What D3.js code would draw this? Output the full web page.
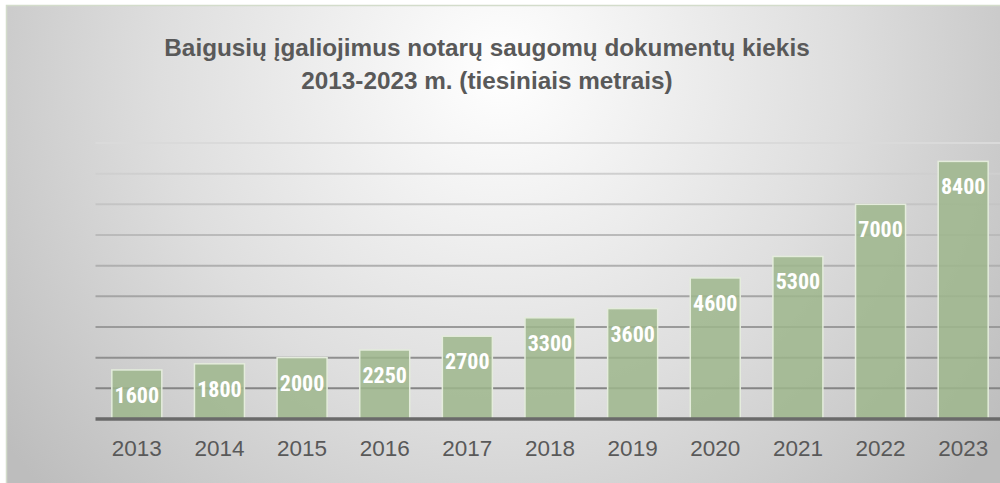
<!DOCTYPE html>
<html>
<head>
<meta charset="utf-8">
<script src="https://cdn.jsdelivr.net/npm/d3@7"></script>
<style>
html,body{margin:0;padding:0;background:#fff;}
svg{display:block;}
</style>
</head>
<body>
<svg id="chart" width="1000" height="483"></svg>
<script>
const titleLines = ["Baigusių įgaliojimus notarų saugomų dokumentų kiekis", "2013-2023 m. (tiesiniais metrais)"];
const years = ["2013","2014","2015","2016","2017","2018","2019","2020","2021","2022","2023"];
const values = [1600,1800,2000,2250,2700,3300,3600,4600,5300,7000,8400];
const gridTicks = [1000,2000,3000,4000,5000,6000,7000,8000,9000];

const W = 1000, H = 483;
const svg = d3.select("#chart");
const defs = svg.append("defs");

const bg = defs.append("radialGradient").attr("id","bg")
  .attr("gradientUnits","userSpaceOnUse")
  .attr("cx",500).attr("cy",70).attr("r",620).attr("fx",500).attr("fy",70);
bg.append("stop").attr("offset","0").attr("stop-color","#ffffff");
bg.append("stop").attr("offset","0.55").attr("stop-color","#dedede");
bg.append("stop").attr("offset","1").attr("stop-color","#bdbdbd");

const margin = {left:95.5, right:-4.5, top:143, bottom:64};
const x = d3.scaleBand().domain(years).range([margin.left, W - margin.right]).paddingInner(0.395).paddingOuter(0.1975);
const y = d3.scaleLinear().domain([0,9000]).range([H - margin.bottom, margin.top]);

const gg = defs.append("linearGradient").attr("id","grid")
  .attr("gradientUnits","userSpaceOnUse").attr("x1",0).attr("y1",y(9000)).attr("x2",0).attr("y2",y(0));
gg.append("stop").attr("offset","0").attr("stop-color","#dadada");
gg.append("stop").attr("offset","1").attr("stop-color","#7a7a7a");

// background + frame
svg.append("rect").attr("x",0).attr("y",0).attr("width",W).attr("height",H).attr("fill","#ffffff");
svg.append("rect").attr("x",6.5).attr("y",5.5).attr("width",W+10).attr("height",H+10)
  .attr("fill","url(#bg)").attr("stroke","#d3dccb").attr("stroke-width",1.5);

// gridlines
svg.append("g").selectAll("line").data(gridTicks).join("line")
  .attr("x1",margin.left).attr("x2",W)
  .attr("y1",d=>y(d)).attr("y2",d=>y(d))
  .attr("stroke","url(#grid)").attr("stroke-width",2);

// bars
svg.append("g").selectAll("rect").data(values).join("rect")
  .attr("x",(d,i)=>x(years[i]))
  .attr("y",d=>y(d))
  .attr("width",x.bandwidth())
  .attr("height",d=>y(0)-y(d))
  .attr("fill","#9db68c").attr("fill-opacity",0.85)
  .attr("stroke","#e4ecdc").attr("stroke-width",1.5);

// baseline axis
const xAxis = d3.axisBottom(x).tickSize(0).tickPadding(14);
const ax = svg.append("g").attr("transform",`translate(0,${y(0)})`).call(xAxis);
ax.select(".domain").attr("stroke","#6a6a6a").attr("stroke-width",3.5).attr("d",`M${margin.left},0H${W}`);
ax.selectAll("text").attr("font-family","'Liberation Sans', Arial, sans-serif").attr("font-size",22.5)
  .attr("fill","#595959").attr("dy","0.76em").attr("y",20);

// value labels
svg.append("g").selectAll("text").data(values).join("text")
  .attr("x",(d,i)=>x(years[i]) + x.bandwidth()/2)
  .attr("y",d=>y(d)+33)
  .attr("text-anchor","middle")
  .attr("font-family","'Liberation Sans Narrow','Roboto Condensed','Arial Narrow',sans-serif")
  .attr("font-weight","bold").attr("font-size",22)
  .attr("fill","#ffffff")
  .text(d=>d);

// title
svg.append("g").selectAll("text").data(titleLines).join("text")
  .attr("x",487).attr("y",(d,i)=>56+i*33)
  .attr("text-anchor","middle")
  .attr("font-family","'Liberation Sans', Arial, sans-serif")
  .attr("font-weight","bold").attr("font-size",24.3)
  .attr("fill","#595959")
  .text(d=>d);
</script>
</body>
</html>
